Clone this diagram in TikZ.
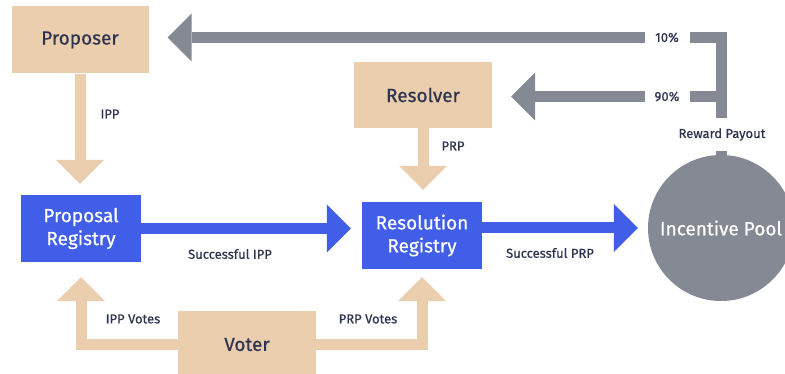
\documentclass[tikz,border=0pt]{standalone}
\usepackage{fontspec}
\setmainfont{Fira Sans}[FakeBold=0.6]
\usetikzlibrary{positioning}
\usetikzlibrary{arrows.meta}
\usetikzlibrary{calc}
\definecolor{figBeige}{RGB}{234,206,174}
\definecolor{figAzul}{RGB}{64,94,232}
\definecolor{figGris}{RGB}{133,137,148}
\definecolor{figTexto}{RGB}{46,52,80}
\tikzset{
  caja/.style={
    rectangle, draw=none, fill=figBeige, minimum height=67pt, minimum width=137pt,
    align=center, font=\fontsize{19}{22}\selectfont, text=figTexto, inner sep=0pt
  },
  cajaazul/.style={
    rectangle, draw=none, fill=figAzul, minimum height=67pt, minimum width=120pt,
    align=center, font=\fontsize{19}{23}\selectfont, text=white, inner sep=0pt
  },
  pozo/.style={
    circle, draw=none, fill=figGris, minimum size=146pt,
    font=\fontsize{19}{22}\selectfont, text=white, inner sep=0pt
  },
  flechab/.style={-{Triangle[length=24pt,width=48pt,line width=0pt]}, line width=11pt, draw=figBeige},
  flechaa/.style={-{Triangle[length=24pt,width=48pt,line width=0pt]}, line width=11pt, draw=figAzul},
  flechag/.style={-{Triangle[length=24pt,width=48pt,line width=0pt]}, line width=11pt, draw=figGris},
  etiqueta/.style={font=\fontsize{13}{15}\selectfont, text=figTexto, inner sep=1pt},
  etiquetab/.style={etiqueta, fill=white, inner sep=3pt}
}

\begin{document}
\begin{tikzpicture}[x=1pt, y=-1pt]
  \clip (0,0) rectangle (785,374);
  \fill[white] (0,0) rectangle (785,374);
  % boxes
  \node[caja] (proposer) at (80,40) {Proposer};
  \node[caja, minimum width=138pt, minimum height=66pt] (resolver) at (423,95) {Resolver};
  \node[cajaazul] (propreg) at (81,228.5) {Proposal\\Registry};
  \node[cajaazul] (resreg) at (422,235.5) {Resolution\\Registry};
  \node[caja, minimum width=138pt] (voter) at (247,344.5) {Voter};
  \node[pozo] (pool) at (721,228) {Incentive Pool};
  % arrows
  \draw[flechab] (proposer.south) -- ([yshift=11pt]proposer.south |- propreg.north);
  \draw[flechab] (resolver.south) -- ([yshift=12pt]resolver.south |- resreg.north);
  \draw[flechaa] (propreg.east) -- ([xshift=-11pt]propreg.east -| resreg.west);
  \draw[flechaa] (resreg.east |- pool.west) -- ([xshift=-10pt]pool.west);
  \draw[flechab] (voter.west) -| ([yshift=-15pt]propreg.south);
  \draw[flechab] (voter.east) -| ([yshift=-8pt]resreg.south);
  \draw[flechag] (pool.north) |- ([xshift=19pt,yshift=2.5pt]proposer.east);
  \draw[flechag] (pool.north) |- ([xshift=19pt,yshift=-1.5pt]resolver.east);
  % labels
  \node[etiqueta] (lipp) at (110,114) {IPP};
  \node[etiqueta] (lprp) at (453,146) {PRP};
  \node[etiqueta] (lsipp) at (230,254) {Successful IPP};
  \node[etiqueta] (lsprp) at (550,253) {Successful PRP};
  \node[etiqueta] (lippv) at (133,319) {IPP Votes};
  \node[etiqueta] (lprpv) at (368,319) {PRP Votes};
  \node[etiquetab, minimum width=45pt] (ldiez) at (667,37.5) {10\%};
  \node[etiquetab, minimum width=45pt] (lnoventa) at (667,96.5) {90\%};
  \node[etiquetab, minimum height=33pt] (lpago) at (722,134.5) {Reward Payout};
\end{tikzpicture}
\end{document}
